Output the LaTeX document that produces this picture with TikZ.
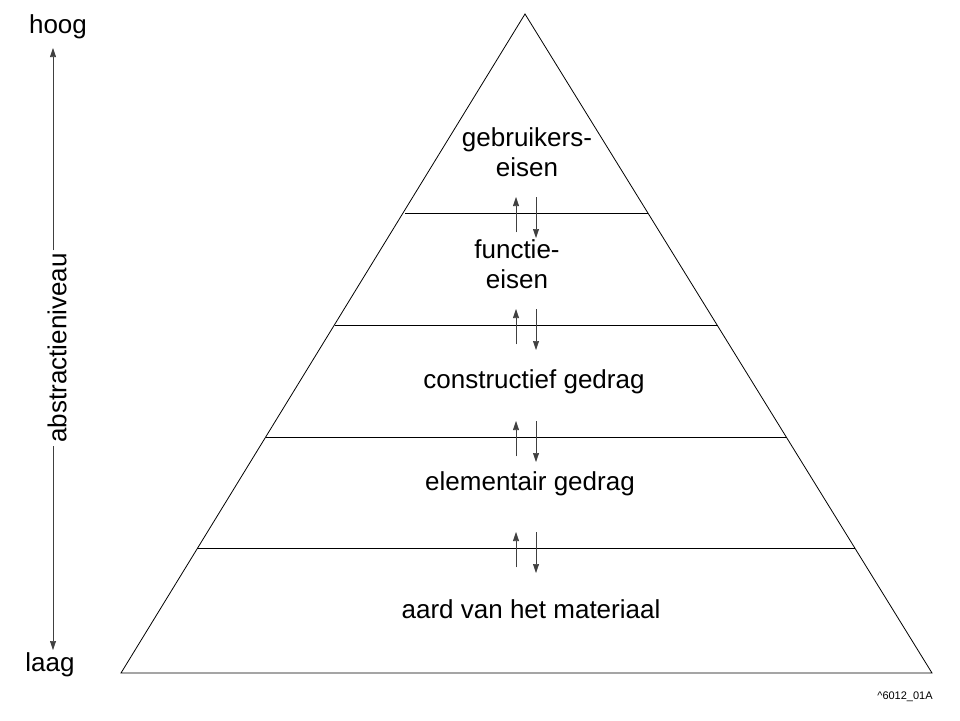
\documentclass[tikz,border=0pt]{standalone}
\usepackage{fontspec}
\setmainfont{Liberation Sans}
\usetikzlibrary{arrows.meta}
\begin{document}
\begin{tikzpicture}[x=1pt,y=-1pt,
  lbl/.style={font=\fontsize{26}{30}\selectfont,align=center,inner sep=0},
  ar/.style={-{Triangle[length=9pt,width=6pt]},line width=0.6pt,draw=black!75,fill=black},
  ln/.style={line width=0.8pt}]
\useasboundingbox (0,0) rectangle (960,720);
\coordinate (A) at (525,14);
\coordinate (B) at (121,673);
\coordinate (C) at (932,673);
\draw[ln] (A) -- (B) -- (C) -- cycle;
\foreach \y/\xl/\xr/\n in {213/405/648/1,325/335/718/2,437/266/787/3,548/197/855/4}{
  \coordinate (l\n) at (\xl,\y); \coordinate (r\n) at (\xr,\y);
  \draw[ln] (l\n) -- (r\n);
  \coordinate (ua\n) at (516,\y+19); \coordinate (ub\n) at (516,\y-16);
  \coordinate (da\n) at (536,\y-16); \coordinate (db\n) at (536,\y+25);
  \draw[ar] (ua\n) -- (ub\n);
  \draw[ar] (da\n) -- (db\n);
}
\node[lbl] (t1) at (527,152) {gebruikers-\\eisen};
\node[lbl] (t2) at (517,264) {functie-\\eisen};
\node[lbl] (t3) at (534,382) {constructief gedrag};
\node[lbl] (t4) at (530,484) {elementair gedrag};
\node[lbl] (t5) at (531,609) {aard van het materiaal};
\node[lbl] (hoog) at (58,27) {hoog};
\node[lbl] (laag) at (50,665) {laag};
\node[lbl,rotate=90] (abs) at (57,348) {abstractieniveau};
\coordinate (a1) at (53,250);
\coordinate (a2) at (53,446);
\coordinate (h1) at (53,48);
\coordinate (l1) at (53,650);
\draw[ar] (a1) -- (h1);
\draw[ar] (a2) -- (l1);
\node[font=\fontsize{11}{12}\selectfont,inner sep=0] (code) at (905,697) {\^{}6012\_01A};
\end{tikzpicture}
\end{document}
